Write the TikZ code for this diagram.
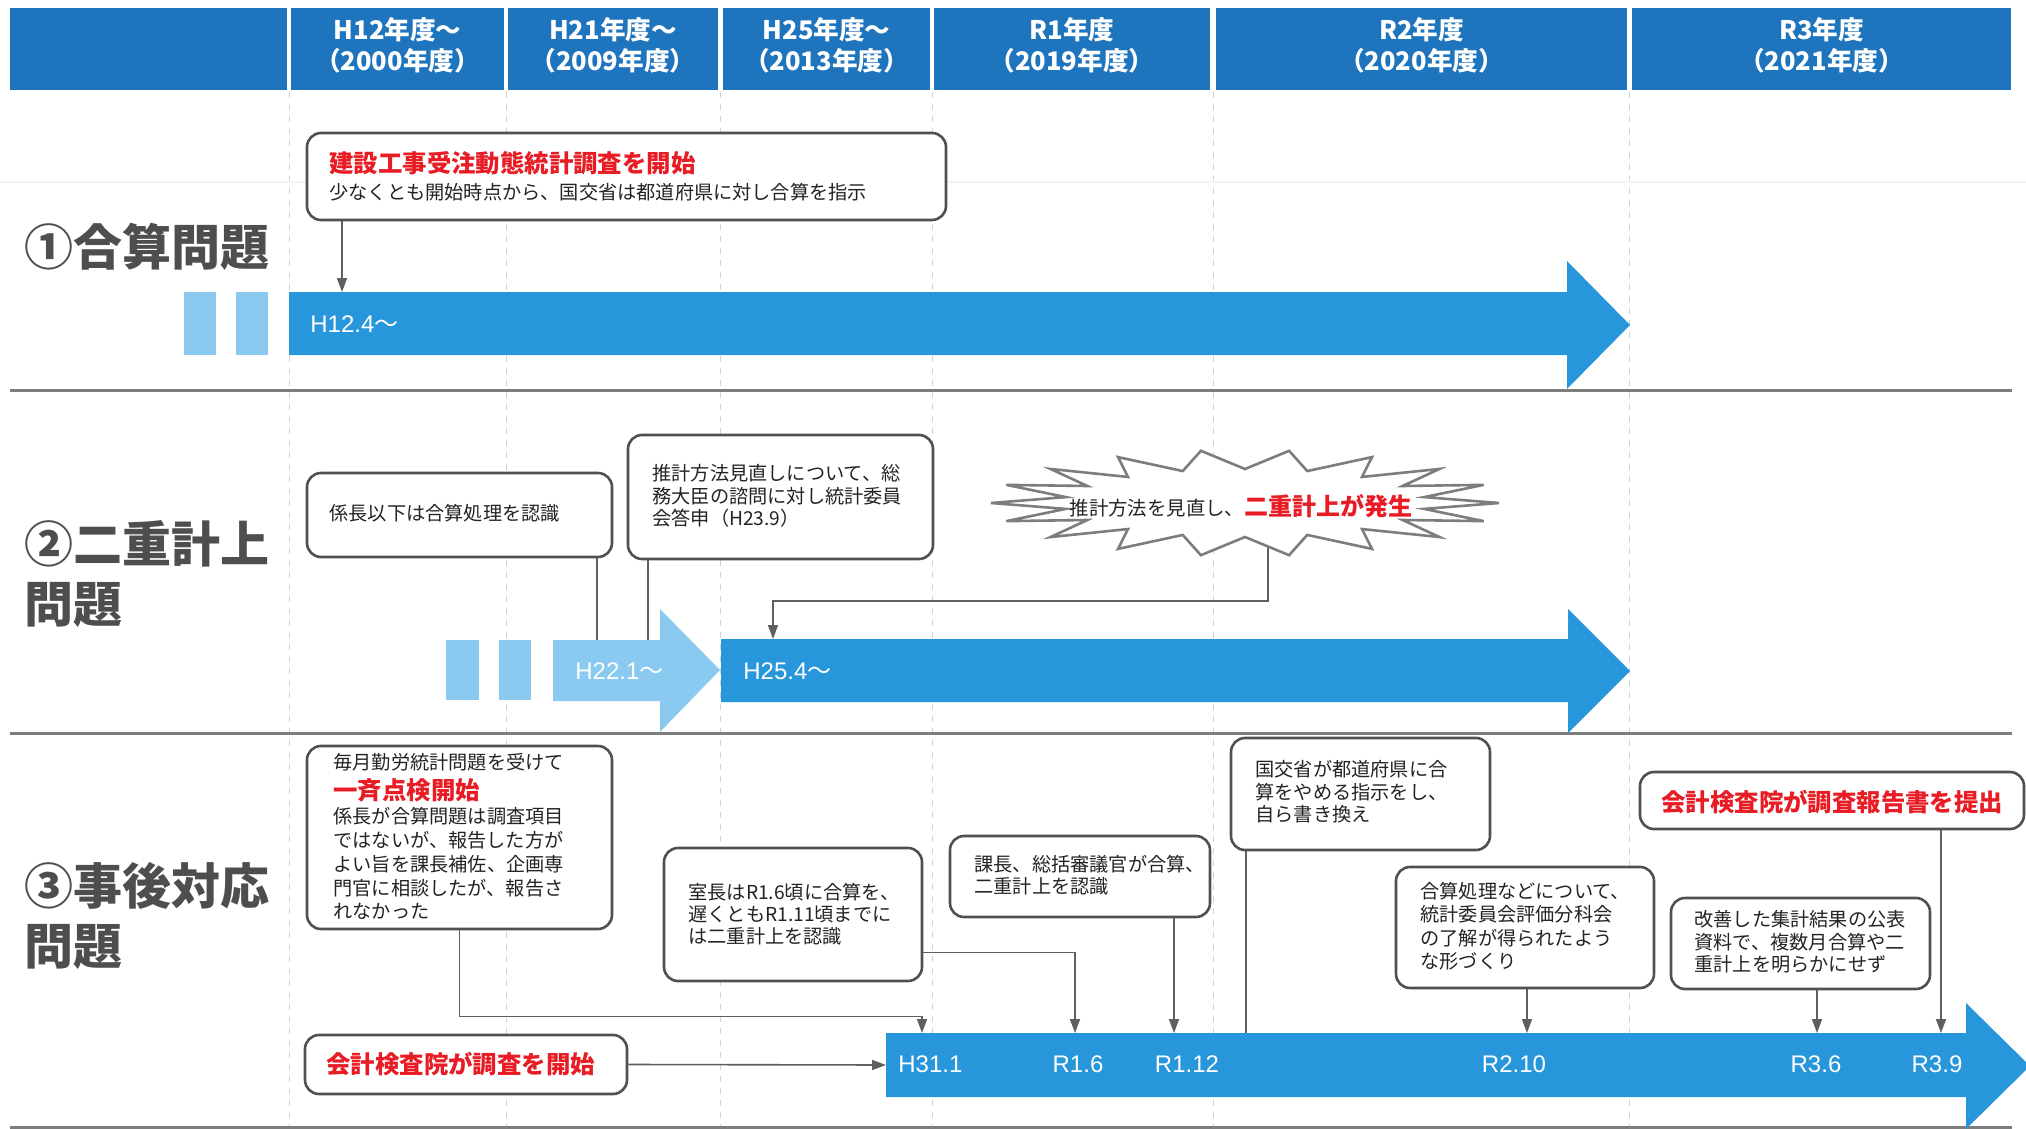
\documentclass[tikz,border=0pt]{standalone}
\usepackage{fontspec}
\setmainfont{Noto Sans CJK JP}
\newfontfamily\latinfont{Liberation Sans}
\usetikzlibrary{arrows.meta,fit}
\definecolor{hdrblue}{RGB}{31,116,190}
\definecolor{barblue}{RGB}{40,150,218}
\definecolor{lightblue}{RGB}{138,202,240}
\definecolor{hired}{RGB}{232,28,36}
\definecolor{boxline}{RGB}{80,80,80}
\definecolor{conncol}{RGB}{95,95,95}
\definecolor{labelgray}{RGB}{78,78,78}
\definecolor{sepgray}{RGB}{125,125,125}
\definecolor{txtcol}{RGB}{35,35,35}
\definecolor{burstcol}{RGB}{125,125,125}
\begin{document}
\begin{tikzpicture}[x=0.5pt,y=-0.5pt,
  hdrcell/.style={fill=hdrblue,draw=none,inner sep=0},
  hdrtext/.style={text=white,font=\bfseries\fontsize{12.8}{15.5}\selectfont,align=center,inner sep=0},
  gridline/.style={draw=gray!35,dash pattern=on 3pt off 3pt,line width=0.5pt},
  sepline/.style={draw=sepgray,line width=1.5pt},
  bar/.style={fill=barblue},
  lbar/.style={fill=lightblue},
  box/.style={draw=boxline,line width=1.3pt,rounded corners=7pt,fill=white,inner sep=0},
  txt/.style={anchor=north west,inner sep=0,align=left,text=txtcol,font=\fontsize{9.6}{11.4}\selectfont},
  redtitle/.style={inner sep=0,text=hired,font=\bfseries\fontsize{12.2}{14}\selectfont},
  barlabel/.style={inner sep=0,text=white,font=\latinfont\fontsize{12}{14}\selectfont},
  seclabel/.style={anchor=north west,inner sep=0,align=left,text=labelgray,font=\bfseries\fontsize{24.5}{30}\selectfont},
  conn/.style={draw=conncol,line width=0.8pt},
  arr/.style={conn,-{Triangle[length=7pt,width=5pt]}},
  burst/.style={draw=burstcol,line width=1.3pt,fill=white,line join=miter}
]
\useasboundingbox (0,0) rectangle (2026,1129);
\clip (0,0) rectangle (2026,1129);

% grid
\foreach \gx in {289,506,720.5,932,1213,1629.5}
  \draw[gridline] (\gx,92) -- (\gx,1129);
\draw[gray!10,line width=1pt] (0,182) -- (2026,182);

% header
\node[hdrcell,fit={(10,8) (287,90)}] (c0) {};
\node[hdrcell,fit={(291,8) (504,90)}] (c1) {};
\node[hdrcell,fit={(508,8) (718,90)}] (c2) {};
\node[hdrcell,fit={(723,8) (930,90)}] (c3) {};
\node[hdrcell,fit={(934,8) (1210,90)}] (c4) {};
\node[hdrcell,fit={(1216,8) (1627,90)}] (c5) {};
\node[hdrcell,fit={(1632,8) (2011,90)}] (c6) {};
\node[hdrtext] (c1t) at ([yshift=2pt]c1.center) {H12年度～\\（2000年度）};
\node[hdrtext] (c2t) at ([yshift=2pt]c2.center) {H21年度～\\（2009年度）};
\node[hdrtext] (c3t) at ([yshift=2pt]c3.center) {H25年度～\\（2013年度）};
\node[hdrtext] (c4t) at ([yshift=2pt]c4.center) {R1年度\\（2019年度）};
\node[hdrtext] (c5t) at ([yshift=2pt]c5.center) {R2年度\\（2020年度）};
\node[hdrtext] (c6t) at ([yshift=2pt]c6.center) {R3年度\\（2021年度）};

% separators
\draw[sepline] (10,390) -- (2012,390);
\draw[sepline] (10,733) -- (2012,733);
\draw[sepline] (10,1127) -- (2012,1127);

% section labels
\node[seclabel] (s1) at (24,223) {①合算問題};
\node[seclabel] (s2) at (24,520) {②二重計上\\問題};
\node[seclabel] (s3) at (24,862) {③事後対応\\問題};

% ===== Section 1 =====
\fill[lbar] (184,292) rectangle (216,355);
\fill[lbar] (236,292) rectangle (268,355);
\fill[bar] (289,292) -- (1567,292) -- (1567,261) -- (1630,325) -- (1567,389) -- (1567,355) -- (289,355) -- cycle;
\node[barlabel,anchor=west] (l124) at (310,324) {H12.4\normalfont～};

\node[box,fit={(307,133) (946,220)}] (b1) {};
\node[redtitle,anchor=north west] (b1a) at (329,151) {建設工事受注動態統計調査を開始};
\node[txt] (b1b) at (329,182.5) {少なくとも開始時点から、国交省は都道府県に対し合算を指示};
\coordinate (t1) at (342,292);
\draw[arr] (t1 |- b1.south) -- (t1);

% ===== Section 2 =====
\fill[lbar] (446,640) rectangle (479,700);
\fill[lbar] (499,640) rectangle (531,700);
\fill[lbar] (553,640) -- (660,640) -- (660,609) -- (720,670) -- (660,732) -- (660,701) -- (553,701) -- cycle;
\fill[bar] (721,639) -- (1568,639) -- (1568,609) -- (1630,671) -- (1568,733) -- (1568,702) -- (721,702) -- cycle;
\node[barlabel,anchor=west] (l221) at (575,671) {H22.1\normalfont～};
\node[barlabel,anchor=west] (l254) at (743,671) {H25.4\normalfont～};

\node[box,fit={(307,473) (612,557)}] (b21) {};
\node[txt] (b21t) at (329,503.5) {係長以下は合算処理を認識};
\node[box,fit={(628,435) (933,559)}] (b22) {};
\node[txt,font=\fontsize{9.6}{11.25}\selectfont] (b22t) at (652,464) {推計方法見直しについて、総\\務大臣の諮問に対し統計委員\\会答申（H23.9）};
\coordinate (t21) at (597,640);
\coordinate (t22) at (648,640);
\draw[conn] (t21 |- b21.south) -- (t21);
\draw[conn] (t22 |- b22.south) -- (t22);

\coordinate (burstbot) at (1268,540);
\coordinate (t25) at (773,639);
\draw[arr] (burstbot) -- ++(0,61) -| (t25);
\draw[burst] (1499,503) \foreach \i in {1,...,35}{ -- ({1245+(isodd(\i)?182:254)*cos(\i*10)},{503+(isodd(\i)?34:53)*sin(\i*10)}) } -- cycle;
\node[inner sep=0,text=txtcol,font=\fontsize{9.7}{12}\selectfont] (bt) at (1241,506) {推計方法を見直し、{\color{hired}\bfseries\fontsize{12}{14}\selectfont 二重計上が発生}};

% ===== Section 3 =====
\fill[bar] (886,1033) -- (1966,1033) -- (1966,1003) -- (2030,1066) -- (1966,1129) -- (1966,1097) -- (886,1097) -- cycle;
\node[barlabel,anchor=west] (lh311) at (898,1064) {H31.1};
\node[barlabel] (lr16) at (1078,1064) {R1.6};
\node[barlabel] (lr112) at (1187,1064) {R1.12};
\node[barlabel] (lr210) at (1514,1064) {R2.10};
\node[barlabel] (lr36) at (1816,1064) {R3.6};
\node[barlabel] (lr39) at (1937,1064) {R3.9};

\node[box,fit={(307,746) (612,929)}] (bA) {};
\node[txt] (bA1) at (333,753) {毎月勤労統計問題を受けて};
\node[redtitle,anchor=north west] (bA2) at (333,778) {一斉点検開始};
\node[txt,font=\fontsize{9.6}{11.9}\selectfont] (bA3) at (333,807) {係長が合算問題は調査項目\\ではないが、報告した方が\\よい旨を課長補佐、企画専\\門官に相談したが、報告さ\\れなかった};

\node[box,fit={(305,1035) (627,1094)}] (bK) {};
\node[redtitle,anchor=west] (bKt) at (326,1064) {会計検査院が調査を開始};

\node[box,fit={(664,848) (922,981)}] (bB) {};
\node[txt,font=\fontsize{9.6}{11}\selectfont] (bBt) at (688,883) {室長はR1.6頃に合算を、\\遅くともR1.11頃までに\\は二重計上を認識};

\node[box,fit={(950,836) (1210,917)}] (bC) {};
\node[txt,font=\fontsize{9.6}{11}\selectfont] (bCt) at (974,855) {課長、総括審議官が合算、\\二重計上を認識};

\node[box,fit={(1231,738) (1490,850)}] (bD) {};
\node[txt,font=\fontsize{9.6}{11.25}\selectfont] (bDt) at (1255,760) {国交省が都道府県に合\\算をやめる指示をし、\\自ら書き換え};

\node[box,fit={(1396,867) (1654,988)}] (bE) {};
\node[txt,font=\fontsize{9.6}{11.6}\selectfont] (bEt) at (1420,882) {合算処理などについて、\\統計委員会評価分科会\\の了解が得られたよう\\な形づくり};

\node[box,fit={(1671,898) (1930,989)}] (bF) {};
\node[txt,font=\fontsize{9.6}{11.25}\selectfont] (bFt) at (1694,910) {改善した集計結果の公表\\資料で、複数月合算や二\\重計上を明らかにせず};

\node[box,fit={(1640,772) (2024,829)}] (bG) {};
\node[redtitle,anchor=west] (bGt) at (1661,802) {会計検査院が調査報告書を提出};

% connectors section 3
\coordinate (tH311) at (922,1033);
\coordinate (b3L) at (886,1065);
\coordinate (tR16) at (1075,1033);
\coordinate (tR112) at (1174,1033);
\coordinate (tD) at (1246,1033);
\coordinate (tR210) at (1527,1033);
\coordinate (tR36) at (1817,1033);
\coordinate (tR39) at (1941,1033);
\draw[arr] (bA.south) -- ++(0,86) -| (tH311);
\draw[arr] (bK.east) -- (b3L);
\draw[arr] ([yshift=-19pt]bB.east) -| (tR16);
\draw[arr] (tR112 |- bC.south) -- (tR112);
\draw[conn] (tD |- bD.south) -- (tD);
\draw[arr] (tR210 |- bE.south) -- (tR210);
\draw[arr] (tR36 |- bF.south) -- (tR36);
\draw[arr] (tR39 |- bG.south) -- (tR39);
\end{tikzpicture}
\end{document}
